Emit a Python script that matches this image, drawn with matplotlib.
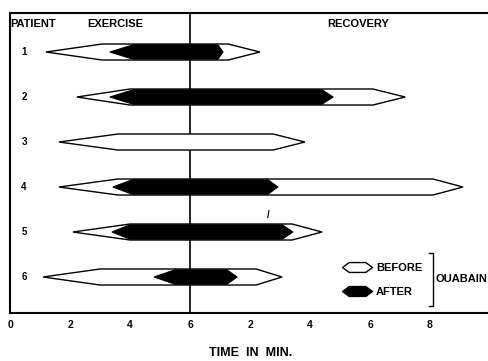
import numpy as np
import matplotlib.pyplot as plt
from matplotlib.patches import Polygon
from matplotlib.lines import Line2D

plt.rcParams['font.family'] = ['Liberation Sans Narrow', 'Liberation Sans', 'DejaVu Sans']
plt.rcParams['font.weight'] = 'bold'

# patients and times (minutes on a continuous scale; recovery starts at 6)
patients = [1, 2, 3, 4, 5, 6]
# before ouabain: tip start, full start, full end, tip end
before_start = [1.2, 2.23, 1.63, 1.63, 2.1, 1.1]
before_full0 = [3.07, 4.0, 3.6, 3.6, 4.0, 3.0]
before_full1 = [7.27, 12.1, 8.77, 14.1, 9.4, 8.2]
before_end = [8.33, 13.17, 9.83, 15.1, 10.4, 9.07]
# after ouabain (patient 3 has none)
after_start = [3.33, 3.33, None, 3.43, 3.4, 4.8]
after_full0 = [4.1, 4.1, None, 4.07, 4.0, 5.5]
after_full1 = [6.93, 10.4, None, 8.6, 9.07, 7.23]
after_end = [7.1, 10.77, None, 8.93, 9.43, 7.57]

tick_pos = [0, 2, 4, 6, 8, 10, 12, 14]
tick_labels = ['0', '2', '4', '6', '2', '4', '6', '8']


def hexagon(y, x0, x1, x2, x3, h):
    return [(x0, y), (x1, y - h), (x2, y - h), (x3, y), (x2, y + h), (x1, y + h)]


fig = plt.figure(figsize=(4.88, 3.61), dpi=100)
ax = fig.add_axes([10 / 488, 48 / 361, 478 / 488, 300 / 361])
ax.set_xlim(0, 478 / 30)
ax.set_ylim(6.8, 0.133)

for i, p in enumerate(patients):
    ax.add_patch(Polygon(hexagon(p, before_start[i], before_full0[i], before_full1[i],
                                 before_end[i], 0.178),
                         closed=True, facecolor='white', edgecolor='black', lw=1.0, zorder=2))
    if after_start[i] is not None:
        ax.add_patch(Polygon(hexagon(p, after_start[i], after_full0[i], after_full1[i],
                                     after_end[i], 0.16),
                             closed=True, facecolor='black', edgecolor='black', lw=0.8, zorder=3))
    ax.text(0.47, p, str(p), ha='center', va='center', fontsize=7)

ax.axvline(6, color='black', lw=1.2, zorder=1)

ax.set_xticks(tick_pos)
ax.set_xticklabels(tick_labels, fontsize=7.5, fontweight='heavy')
ax.tick_params(axis='x', length=0, pad=5)
ax.set_yticks([])
for side in ['left', 'top', 'bottom']:
    ax.spines[side].set_linewidth(1.5)
ax.spines['right'].set_visible(False)

ax.text(0.0, 0.378, 'PATIENT', ha='left', va='center', fontsize=8)
ax.text(2.57, 0.378, 'EXERCISE', ha='left', va='center', fontsize=8)
ax.text(11.6, 0.378, 'RECOVERY', ha='center', va='center', fontsize=8)
ax.text(8.6, 4.62, '/', ha='center', va='center', fontsize=7)

fig.text(251 / 488, 1 - 353 / 361, 'TIME  IN  MIN.', ha='center', va='center', fontsize=9)

hexm = [(-1, 0), (-0.55, 0.33), (0.55, 0.33), (1, 0), (0.55, -0.33), (-0.55, -0.33), (-1, 0)]
handles = [Line2D([], [], ls='none', marker=hexm, markersize=21.6, markerfacecolor='white',
                  markeredgecolor='black', markeredgewidth=1.0),
           Line2D([], [], ls='none', marker=hexm, markersize=21.6, markerfacecolor='black',
                  markeredgecolor='black', markeredgewidth=1.0)]
leg = ax.legend(handles, ['BEFORE', 'AFTER'], frameon=False, loc='center left',
                bbox_to_anchor=(335 / 488, 1 - 280 / 361), bbox_transform=fig.transFigure,
                handlelength=2.2, handletextpad=0.6, labelspacing=1.2,
                prop={'size': 8, 'weight': 'bold'})

# bracket for OUABAIN
bx = 433 / 488
fig.add_artist(Line2D([bx - 0.008, bx, bx, bx - 0.008],
                      [1 - 253 / 361, 1 - 253 / 361, 1 - 306 / 361, 1 - 306 / 361],
                      color='black', lw=1.0, transform=fig.transFigure))
fig.text(435 / 488, 1 - 279 / 361, 'OUABAIN', ha='left', va='center', fontsize=8)

fig.savefig('out.png', dpi=100)
